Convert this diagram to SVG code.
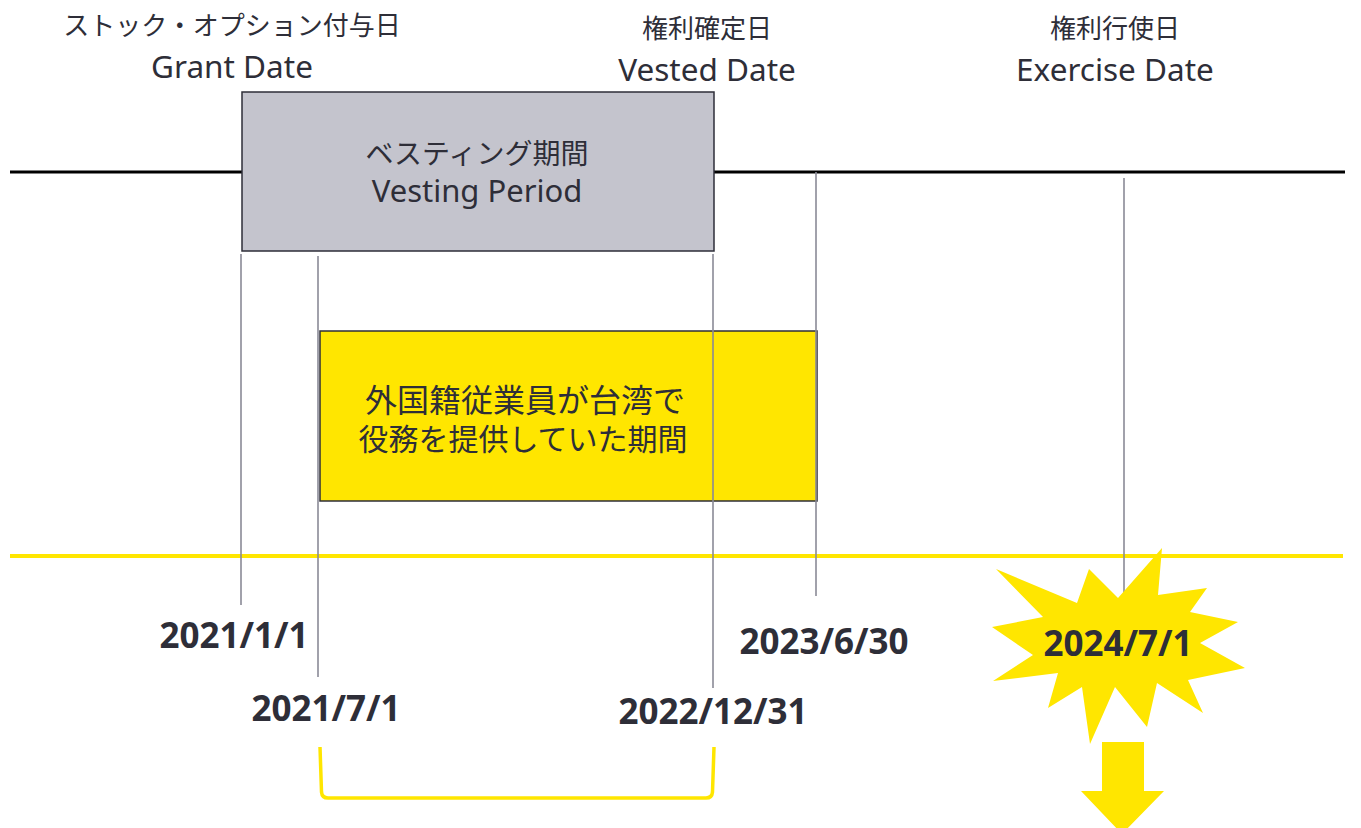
<svg xmlns="http://www.w3.org/2000/svg" width="1361" height="828" viewBox="0 0 1361 828">
<style>
.t{font-family:"Noto Sans","Noto Sans CJK JP",sans-serif;fill:#2e2e38;text-anchor:middle}
.h{font-size:26px}
.l{font-size:31.5px}
.j{font-size:28px}
.p{font-size:31px}
.y{font-size:31px}
.d{font-size:35px;font-weight:bold}
.v{stroke:#8a8a96;stroke-width:1.6;fill:none}
</style>
<rect width="1361" height="828" fill="#ffffff"/>
<g id="axes">
<line x1="10" y1="172" x2="1345" y2="172" stroke="#000" stroke-width="3"/>
<line x1="10" y1="556" x2="1343" y2="556" stroke="#ffe600" stroke-width="4"/>
</g>
<g id="labels-top">
<text class="t h" x="232" y="35">ストック・オプション付与日</text>
<text class="t l" x="232" y="78">Grant Date</text>
<text class="t h" x="707" y="38">権利確定日</text>
<text class="t l" x="707" y="81">Vested Date</text>
<text class="t h" x="1115" y="38">権利行使日</text>
<text class="t l" x="1115" y="81">Exercise Date</text>
</g>
<g id="vesting">
<rect x="242" y="92" width="472" height="159" fill="#c4c4cd" stroke="#2e2e38" stroke-width="1.5"/>
<text class="t j" x="477" y="164">ベスティング期間</text>
<text class="t p" x="477" y="202">Vesting Period</text>
</g>
<g id="service">
<rect x="320" y="331" width="497" height="170" fill="#ffe600" stroke="#2e2e38" stroke-width="1.5"/>
<text class="t y" x="525" y="412" style="font-size:32px">外国籍従業員が台湾で</text>
<text class="t y" x="523" y="450" style="font-size:30px">役務を提供していた期間</text>
</g>
<g id="connectors">
<line class="v" x1="241" y1="254" x2="241" y2="605"/>
<line class="v" x1="318" y1="256" x2="318" y2="677"/>
<line class="v" x1="713" y1="254" x2="713" y2="688"/>
<line class="v" x1="816" y1="172" x2="816" y2="596"/>
<line class="v" x1="1124" y1="178" x2="1124" y2="594"/>
<path d="M320 747 L321.5 792 Q322 798 328 798 L706 798 Q712 798 712.5 792 L714 747" fill="none" stroke="#ffe600" stroke-width="3.5"/>
</g>
<g id="star">
<polygon fill="#ffe600" points="996,569 1077,603 1089,569 1118,598 1162,548 1158,595 1207,588 1190,612 1238,622 1200,643 1245,668 1188,680 1203,713 1157,683 1147,727 1115,687 1090,744 1082,687 1048,708 1058,673 993,681 1033,655 992,627 1043,617"/>
<text class="t d" x="1118" y="656">2024/7/1</text>
</g>
<g id="arrow">
<polygon fill="#ffe600" points="1102,742 1144,742 1144,791 1164,791 1122,834 1081,791 1102,791"/>
</g>
<g id="dates">
<text class="t d" x="234" y="648">2021/1/1</text>
<text class="t d" x="326" y="721">2021/7/1</text>
<text class="t d" x="713" y="724">2022/12/31</text>
<text class="t d" x="824" y="654">2023/6/30</text>
</g>
</svg>
